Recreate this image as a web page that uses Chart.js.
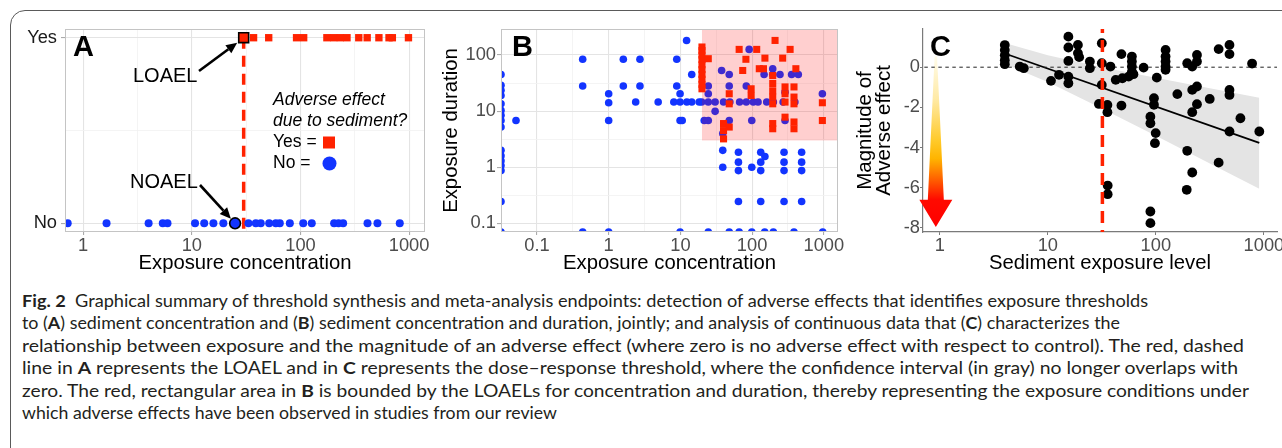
<!DOCTYPE html>
<html><head><meta charset="utf-8"><title>Fig. 2</title>
<script src="https://cdn.jsdelivr.net/npm/chart.js@4.4.1/dist/chart.umd.min.js"></script>
<style>
html,body{margin:0;padding:0;background:#fff;width:1282px;height:448px;overflow:hidden;position:relative;}
#frame{position:absolute;left:10px;top:10px;width:1320px;height:480px;border:1.5px solid #5a5a5a;border-radius:15px;box-sizing:border-box;}
canvas{position:absolute;top:0;}
#cA{left:0px}
#cB{left:430px}
#cC{left:840px}
.cap{position:absolute;left:22px;white-space:nowrap;font-family:Lato,'Liberation Sans',sans-serif;font-size:17.5px;line-height:22px;color:#231f20;transform-origin:0 50%;}
.cap b{font-weight:700}
</style></head><body>
<div id="frame"></div>
<canvas id="cA" width="440" height="285"></canvas>
<canvas id="cB" width="430" height="285"></canvas>
<canvas id="cC" width="460" height="285"></canvas>
<div id="caption"></div>
<script>
// ================= DATA =================
// Panel A: adverse effect (Yes / No) vs exposure concentration
const aCategories = ['No', 'Yes'];
const aNoConc = [0.72, 1.64, 4.0, 5.4, 5.97, 10.7, 13, 15.8, 19.5, 33.2, 38.8, 43.1, 51.5, 59.3, 64.5, 79.8, 106, 127, 204, 224, 247, 414, 511, 820];
const aYesConc = [37, 51, 92, 107, 175, 202, 233, 268, 344, 411, 527, 653, 701, 986];
const aLoaelConc = 30;
const aNoaelConc = 25;
const aXRange = [0.68, 1400];
const aYRange = [-0.047, 1.047];
const aXTicks = [1, 10, 100, 1000];
const aXTickLabels = ['1', '10', '100', '1000'];
const aXMinor = [3.162, 31.62, 316.2];

// Panel B: exposure concentration vs exposure duration
const bBlueConc = [0.0315,0.0315,0.0315,0.0315,0.0315,0.0315,0.0315,0.0315,0.0315,0.0315,0.0315,0.0315,0.0315,0.0315,0.0315,0.0315,
  0.051,0.434,0.434,0.434,1,1,1,1,1.6,1.6,2.38,2.73,2.73,4.9,8.9,8.9,9.9,8.1,9.9,12.3,14.4,18.3,9.9,10.6,9.9,12.2,14.4,
  19.8,24.5,30.5,40,49,67,83,104,121,160,198,271,395,24.5,24.5,30.5,24.5,21.5,24.5,37.6,39,39,39,48,48,48,48,
  64.5,64.5,64.5,64.5,66,83,91,99,99,99,132,132,132,132,151,150,147,194,194,245,198,288,288,279,279,279,279,356,441,384,
  491,491,491,491,955,966];
const bBlueDur = [45,29,23.5,19,13.5,10.3,8.4,6.8,5.2,2.0,1.6,1.3,1.07,0.87,0.245,0.07,
  6.8,84,28,0.07,20.4,14.1,6.8,0.07,84,28,14.5,84,28,14.5,84,28,20.4,14.5,14.5,14.5,14.5,14.5,6.8,6.8,0.07,182,45,
  14.5,14.5,14.5,14.5,14.5,14.5,14.5,14.5,14.5,14.5,14.5,14.5,14.5,28,20.4,9.9,6.8,6.8,0.07,53,4.0,2.0,1.0,45,28,6.8,0.07,
  1.85,1.23,0.87,0.245,0.07,28,126,6.8,1.0,0.07,1.85,1.23,0.87,0.245,1.55,0.07,45,57,45,45,0.07,21.8,6.8,1.85,1.23,0.87,0.245,45,45,0.07,
  1.85,1.23,0.87,0.245,20.4,0.07];
const bRedConc = [20,20,20,20,20,20,20,20,20,20,24.5,40,40,40,48,48,48,66,74,82,97,97,116,126,144,151,
  194,194,194,194,194,194,194,209,267,339,288,288,288,288,384,384,384,384,384,408,955,955];
const bRedDur = [139,120,100,83,67,55,45,37,30,25,86,6,4.5,3.2,20.4,13.5,5.2,126,53,84,25,19,126,57,57,88,
  43,31,23,17.8,13.5,6,4.85,182,88,126,27,20.4,14.5,7.8,27,17.8,13.5,6.4,4.85,57,14.1,6.8];
const bLoaelConc = 20;
const bLoaelDur = 3;
const bXRange = [0.0315, 1578];
const bYRange = [0.07, 291];
const bXTicks = [0.1, 1, 10, 100, 1000];
const bXTickLabels = ['0.1', '1', '10', '100', '1000'];
const bXMinor = [0.3162, 3.162, 31.62, 316.2];
const bYTicks = [0.1, 1, 10, 100];
const bYTickLabels = ['0.1', '1', '10', '100'];
const bYMinor = [0.3162, 3.162, 31.62];

// Panel C: magnitude of adverse effect vs sediment exposure level
const cConc = [4,4,4,4,4,5.5,6,10.7,12.7,15.5,15.5,15.5,15.5,15.5,19,19,19.5,24.5,24.5,29.7,31.6,31.6,31.6,35.6,35.6,35.8,35.8,
  38,42.5,48,48,49,56,60,60,60,60,62,77,89,89,89,89,96,96,99.6,98,102,123,123,123,123,123,158,193,195,195,
  217,217,217,217,240,240,240,240,315,381,381,480,480,480,480,480,606,777,906];
const cEffect = [1.1,0.85,0.6,0.35,0.15,0.03,-0.05,-0.68,-0.38,1.52,0.98,0.31,-0.47,-0.8,1.11,0.7,0.5,0.28,-0.05,-1.83,1.19,0.2,-0.88,-1.88,-2.24,-5.89,-6.32,
  0.03,-0.63,0.65,-1.91,-0.55,-0.47,-0.22,0.53,0.28,0.03,-0.35,-0.02,-2.46,-2.79,-7.18,-7.76,-1.54,-1.87,-3.28,-3.78,-0.52,0.86,0.53,0.28,0.03,-0.13,-1.34,-6.1,0.2,-4.16,
  0.03,-1.13,-2.24,-5.24,0.61,0.28,-0.96,-1.84,-1.58,0.9,-4.75,1.11,0.65,-1.13,-1.38,-3.2,-2.54,0.18,-3.2];
const cFitConc = [4, 906];
const cFitEffect = [0.68, -3.77];
const cBandConc = [4, 10, 31.6, 100, 316, 906];
const cBandUpper = [1.2, 0.60, 0.0, -0.53, -1.05, -1.52];
const cBandLower = [0.16, -0.74, -2.05, -3.41, -4.79, -6.05];
const cThreshold = 32;
const cXRange = [0.72, 1321];
const cYRange = [-8.2, 1.9];
const cXTicks = [1, 10, 100, 1000];
const cXTickLabels = ['1', '10', '100', '1000'];
const cYTicks = [-8, -6, -4, -2, 0];
const cYTickLabels = ['-8', '-6', '-4', '-2', '0'];

// ================= STYLE / HELPERS =================
const RED = 'rgb(255,34,0)';
const BLUE = 'rgb(18,52,255)';
const FONT = "'Liberation Sans', Arial, sans-serif";
const TICK_SIZE = 18.3;
const TITLE_SIZE = 20.3;
Chart.defaults.font.family = FONT;

const pts = (xs, ys) => xs.map((x, i) => ({x, y: ys[i]}));
const constPts = (xs, y) => xs.map(x => ({x, y}));

function lightAxis(type, range, majors, labels, minors, fit, tickOpts, tickLength) {
  const isMaj = (c) => c.tick && majors.includes(c.tick.value);
  return {
    type, min: range[0], max: range[1],
    afterBuildTicks: (s) => {
      s.ticks = majors.concat(minors).filter(v => v >= range[0] && v <= range[1]).sort((a, b) => a - b).map(v => ({value: v}));
    },
    afterFit: fit,
    ticks: Object.assign({autoSkip: false, maxRotation: 0, minRotation: 0,
      callback: (v) => { const i = majors.indexOf(v); return i >= 0 ? labels[i] : ''; }}, tickOpts),
    grid: {
      color: (c) => isMaj(c) ? '#e4e4e4' : '#f1f1f1',
      lineWidth: (c) => isMaj(c) ? 1.1 : 0.8,
      tickColor: (c) => isMaj(c) ? '#ababab' : 'rgba(0,0,0,0)',
      tickLength: tickLength, drawTicks: true
    },
    border: {display: false}
  };
}

function drawArrow(ctx, x1, y1, x2, y2) {
  const ang = Math.atan2(y2 - y1, x2 - x1), hl = 11, hw = 5;
  const bx = x2 - hl * Math.cos(ang), by = y2 - hl * Math.sin(ang);
  ctx.strokeStyle = '#000'; ctx.lineWidth = 2.6; ctx.lineCap = 'butt';
  ctx.beginPath(); ctx.moveTo(x1, y1); ctx.lineTo(bx, by); ctx.stroke();
  ctx.fillStyle = '#000'; ctx.beginPath();
  ctx.moveTo(x2, y2);
  ctx.lineTo(bx + hw * Math.sin(ang), by - hw * Math.cos(ang));
  ctx.lineTo(bx - hw * Math.sin(ang), by + hw * Math.cos(ang));
  ctx.closePath(); ctx.fill();
}

function panelBox(chart) {
  const {ctx, chartArea: ca} = chart;
  ctx.save(); ctx.strokeStyle = '#c4c4c4'; ctx.lineWidth = 1;
  ctx.strokeRect(ca.left + 0.5, ca.top + 0.5, ca.right - ca.left - 1, ca.bottom - ca.top - 1);
  ctx.restore();
}
function panelLetter(ctx, letter, x) {
  ctx.save(); ctx.fillStyle = '#000'; ctx.font = 'bold 29px ' + FONT;
  ctx.textAlign = 'left'; ctx.textBaseline = 'alphabetic';
  ctx.fillText(letter, x, 55.5); ctx.restore();
}

const baseOpts = {
  responsive: false, animation: false, events: [],
  plugins: {legend: {display: false}, tooltip: {enabled: false}}
};

// ================= PANEL A =================
const annotA = {
  id: 'annotA',
  afterDraw(chart) {
    panelBox(chart);
    const {ctx, scales: {x, y}} = chart;
    panelLetter(ctx, 'A', 73);
    ctx.save();
    ctx.fillStyle = '#000'; ctx.textAlign = 'left'; ctx.textBaseline = 'middle';
    ctx.font = '20px ' + FONT;
    ctx.fillText('LOAEL', 133, 76);
    ctx.fillText('NOAEL', 130, 182);
    const lx = x.getPixelForValue(aLoaelConc), ly = y.getPixelForValue(1);
    drawArrow(ctx, 199, 71, lx - 6.5, ly + 5);
    const nx = x.getPixelForValue(aNoaelConc), ny = y.getPixelForValue(0);
    drawArrow(ctx, 200, 185, nx - 4.2, ny - 4.6);
    ctx.fillStyle = '#000';
    ctx.font = 'italic 17.5px ' + FONT;
    ctx.fillText('Adverse effect', 273, 100);
    ctx.fillText('due to sediment?', 273, 121);
    ctx.font = '17.5px ' + FONT;
    ctx.fillText('Yes =', 273, 142);
    ctx.fillText('No =', 273, 163.5);
    ctx.fillStyle = RED; ctx.fillRect(323, 136.5, 12, 12);
    ctx.fillStyle = BLUE; ctx.beginPath(); ctx.arc(329.5, 163.5, 7, 0, Math.PI * 2); ctx.fill();
    ctx.restore();
  }
};
const aX = lightAxis('logarithmic', aXRange, aXTicks, aXTickLabels, aXMinor, s => { s.height = 53; },
  {font: {size: TICK_SIZE}, color: '#4d4d4d', padding: 0}, 3);
aX.title = {display: true, text: 'Exposure concentration', color: '#000', font: {size: TITLE_SIZE}, padding: {top: 0, bottom: 9}};
const aY = lightAxis('linear', aYRange, [0, 1], aCategories, [0.5], s => { s.width = 65; },
  {font: {size: 18.3}, color: '#1a1a1a', padding: 4}, 4);

new Chart(document.getElementById('cA'), {
  type: 'scatter',
  data: {datasets: [
    {label: 'LOAEL', data: [{x: aLoaelConc, y: 1}], pointStyle: 'rect', pointRadius: 7, pointBackgroundColor: RED, pointBorderColor: '#000', pointBorderWidth: 1.6, clip: 0},
    {label: 'NOAEL', data: [{x: aNoaelConc, y: 0}], pointStyle: 'circle', pointRadius: 5.4, pointBackgroundColor: BLUE, pointBorderColor: '#000', pointBorderWidth: 1.6, clip: 0},
    {label: 'Yes', data: constPts(aYesConc, 1), pointStyle: 'rect', pointRadius: 5.2, pointBackgroundColor: RED, pointBorderWidth: 0, clip: 0},
    {label: 'No', data: constPts(aNoConc, 0), pointStyle: 'circle', pointRadius: 4, pointBackgroundColor: BLUE, pointBorderWidth: 0, clip: 0},
    {type: 'line', label: 'LOAEL line', data: [{x: aLoaelConc, y: 1}, {x: aLoaelConc, y: aYRange[0]}], borderColor: RED, borderWidth: 3.5, borderDash: [11, 7], pointRadius: 0, fill: false, clip: 0}
  ]},
  options: Object.assign({}, baseOpts, {
    layout: {padding: {left: 0, top: 29, right: 15, bottom: 0}},
    scales: {x: aX, y: aY}
  }),
  plugins: [annotA]
});

// ================= PANEL B =================
const annotB = {
  id: 'annotB',
  afterDatasetDraw(chart, args) {
    if (args.index !== 1) return;
    const {ctx, chartArea: ca, scales: {x, y}} = chart;
    const x0 = x.getPixelForValue(bLoaelConc), y0 = y.getPixelForValue(bLoaelDur);
    ctx.save(); ctx.fillStyle = 'rgba(255,0,0,0.19)';
    ctx.fillRect(x0, ca.top, ca.right - x0, y0 - ca.top); ctx.restore();
  },
  afterDraw(chart) {
    panelBox(chart);
    panelLetter(chart.ctx, 'B', 82);
  }
};
const bX = lightAxis('logarithmic', bXRange, bXTicks, bXTickLabels, bXMinor, s => { s.height = 53; },
  {font: {size: TICK_SIZE}, color: '#4d4d4d', padding: 0}, 3);
bX.title = {display: true, text: 'Exposure concentration', color: '#000', font: {size: TITLE_SIZE}, padding: {top: 0, bottom: 9}};
const bY = lightAxis('logarithmic', bYRange, bYTicks, bYTickLabels, bYMinor, s => { s.width = 71; },
  {font: {size: TICK_SIZE}, color: '#4d4d4d', padding: 1}, 4);
bY.title = {display: true, text: 'Exposure duration', color: '#000', font: {size: TITLE_SIZE}, padding: {top: 9.5, bottom: 0}};

new Chart(document.getElementById('cB'), {
  type: 'scatter',
  data: {datasets: [
    {label: 'Yes', data: pts(bRedConc, bRedDur), pointStyle: 'rect', pointRadius: 5, pointBackgroundColor: RED, pointBorderWidth: 0, clip: 0},
    {label: 'No', data: pts(bBlueConc, bBlueDur), pointStyle: 'circle', pointRadius: 3.8, pointBackgroundColor: BLUE, pointBorderWidth: 0, clip: 0}
  ]},
  options: Object.assign({}, baseOpts, {
    layout: {padding: {left: 0, top: 29, right: 22, bottom: 0}},
    scales: {x: bX, y: bY}
  }),
  plugins: [annotB]
});

// ================= PANEL C =================
const annotC = {
  id: 'annotC',
  beforeDatasetsDraw(chart) {
    const {ctx, scales: {x, y}} = chart;
    const ax = x.getPixelForValue(0.92);
    const top = y.getPixelForValue(0.55), headTop = y.getPixelForValue(-6.6), tip = y.getPixelForValue(-7.95);
    const g = ctx.createLinearGradient(0, top, 0, tip);
    g.addColorStop(0, 'rgba(255,252,235,1)');
    g.addColorStop(0.25, '#ffeaa6');
    g.addColorStop(0.5, '#ffc928');
    g.addColorStop(0.6, '#ffb400');
    g.addColorStop(0.73, '#ff5a00');
    g.addColorStop(0.84, '#ff0a00');
    g.addColorStop(1, '#ff0000');
    ctx.save(); ctx.fillStyle = g; ctx.beginPath();
    ctx.moveTo(ax - 1.2, top); ctx.lineTo(ax + 1.2, top);
    ctx.lineTo(ax + 8, headTop); ctx.lineTo(ax + 16.5, headTop);
    ctx.lineTo(ax, tip); ctx.lineTo(ax - 16.5, headTop); ctx.lineTo(ax - 8, headTop);
    ctx.closePath(); ctx.fill(); ctx.restore();
  },
  afterDraw(chart) { panelLetter(chart.ctx, 'C', 90); }
};
const cAxisStyle = (majors, labels, range, fit, pad) => ({
  type: null, min: range[0], max: range[1],
  afterBuildTicks: (s) => { s.ticks = majors.map(v => ({value: v})); },
  afterFit: fit,
  ticks: {autoSkip: false, maxRotation: 0, minRotation: 0, font: {size: TICK_SIZE}, color: '#4d4d4d', padding: pad,
    callback: (v) => { const i = majors.indexOf(v); return i >= 0 ? labels[i] : ''; }},
  grid: {drawOnChartArea: false, drawTicks: true, tickLength: 3, tickColor: '#7a7a7a'},
  border: {display: true, color: '#7a7a7a', width: 1.2}
});
const cX = cAxisStyle(cXTicks, cXTickLabels, cXRange, s => { s.height = 53; }, 0);
cX.type = 'logarithmic';
cX.title = {display: true, text: 'Sediment exposure level', color: '#000', font: {size: TITLE_SIZE}, padding: {top: 0, bottom: 9}};
const cY = cAxisStyle(cYTicks, cYTickLabels, cYRange, s => { s.width = 83; }, 0);
cY.type = 'linear';
cY.title = {display: true, text: ['Magnitude of', 'Adverse effect'], color: '#000', font: {size: 20.5, lineHeight: 0.9}, padding: {top: 16.6, bottom: 0}};

new Chart(document.getElementById('cC'), {
  type: 'scatter',
  data: {datasets: [
    {type: 'line', label: 'threshold', data: [{x: cThreshold, y: cYRange[1]}, {x: cThreshold, y: cYRange[0]}], borderColor: RED, borderWidth: 3.5, borderDash: [12, 7], borderDashOffset: 8, pointRadius: 0, fill: false, clip: 0},
    {label: 'effects', data: pts(cConc, cEffect), pointStyle: 'circle', pointRadius: 4.9, pointBackgroundColor: '#000', pointBorderWidth: 0, clip: 0},
    {type: 'line', label: 'zero', data: [{x: cXRange[0], y: 0}, {x: cXRange[1], y: 0}], borderColor: '#222', borderWidth: 1, borderDash: [3.5, 3.5], pointRadius: 0, fill: false, clip: 0},
    {type: 'line', label: 'fit', data: pts(cFitConc, cFitEffect), borderColor: '#000', borderWidth: 1.8, pointRadius: 0, fill: false, clip: 0},
    {type: 'line', label: 'ci upper', data: pts(cBandConc, cBandUpper), borderColor: 'rgba(0,0,0,0)', borderWidth: 0, backgroundColor: '#e4e4e4', fill: '+1', pointRadius: 0, clip: 0},
    {type: 'line', label: 'ci lower', data: pts(cBandConc, cBandLower), borderColor: 'rgba(0,0,0,0)', borderWidth: 0, pointRadius: 0, fill: false, clip: 0}
  ]},
  options: Object.assign({}, baseOpts, {
    layout: {padding: {left: 0, top: 29, right: 23, bottom: 0}},
    scales: {x: cX, y: cY}
  }),
  plugins: [annotC]
});

// ================= CAPTION =================
const captionLines = [
  '<b>Fig. 2</b>&nbsp; Graphical summary of threshold synthesis and meta-analysis endpoints: detection of adverse effects that identifies exposure thresholds',
  'to (<b>A</b>) sediment concentration and (<b>B</b>) sediment concentration and duration, jointly; and analysis of continuous data that (<b>C</b>) characterizes the',
  'relationship between exposure and the magnitude of an adverse effect (where zero is no adverse effect with respect to control). The red, dashed',
  'line in <b>A</b> represents the LOAEL and in <b>C</b> represents the dose\u2013response threshold, where the confidence interval (in gray) no longer overlaps with',
  'zero. The red, rectangular area in <b>B</b> is bounded by the LOAELs for concentration and duration, thereby representing the exposure conditions under',
  'which adverse effects have been observed in studies from our review'
];
const captionRight = [1148, 1120, 1244, 1238, 1249, 557];
const capHost = document.getElementById('caption');
const capDivs = captionLines.map((html, i) => {
  const d = document.createElement('div');
  d.className = 'cap'; d.innerHTML = html;
  d.style.top = (301 - 11 + i * 22.4) + 'px';
  capHost.appendChild(d); return d;
});
function fitCaption() {
  capDivs.forEach((d, i) => {
    d.style.transform = 'none';
    const w = d.getBoundingClientRect().width;
    if (w > 0) d.style.transform = 'scaleX(' + ((captionRight[i] - 22) / w).toFixed(4) + ')';
  });
}
fitCaption();
if (document.fonts && document.fonts.ready) document.fonts.ready.then(fitCaption);
</script>
</body></html>
